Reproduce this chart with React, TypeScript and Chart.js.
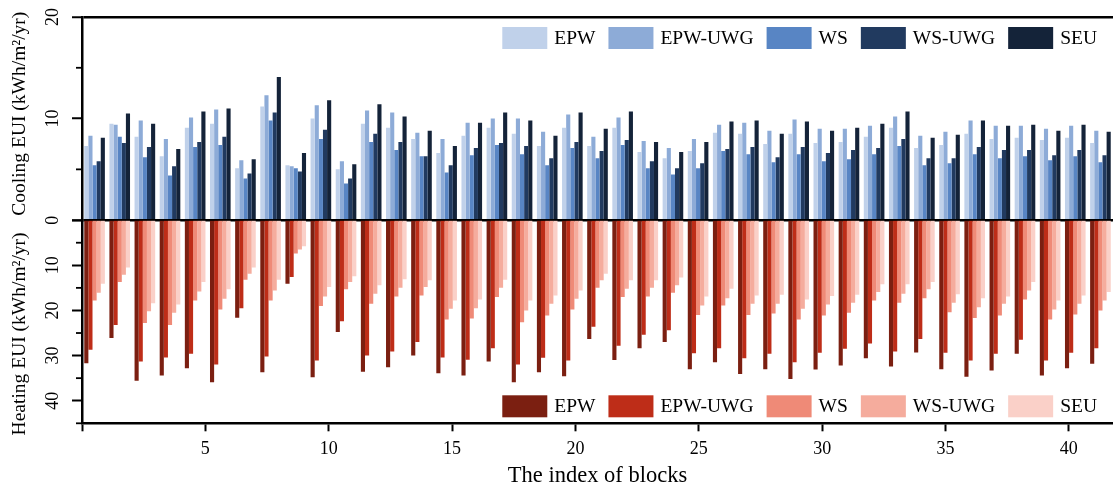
import React, { useEffect, useRef } from 'react';
import { Chart, registerables } from 'chart.js';

Chart.register(...registerables);

const BLOCKS = ['1','2','3','4','5','6','7','8','9','10','11','12','13','14','15','16','17','18','19','20','21','22','23','24','25','26','27','28','29','30','31','32','33','34','35','36','37','38','39','40','41'];
const SERIES = ['EPW', 'EPW-UWG', 'WS', 'WS-UWG', 'SEU'];

const COOL_EPW = [7.3,9.5,8.2,6.3,9.1,9.5,5.1,11.2,5.4,10.0,5.0,9.5,9.1,8.0,6.6,8.3,9.1,8.5,7.3,9.1,7.3,9.1,6.7,6.1,6.8,8.6,8.5,7.5,8.5,7.6,7.7,8.2,9.1,7.1,7.4,8.5,8.0,8.1,7.9,8.1,7.6];
const COOL_EPW_UWG = [8.3,9.4,9.8,8.0,10.1,10.9,5.9,12.3,5.3,11.3,5.8,10.8,10.6,8.6,8.0,9.6,10.0,10.0,8.7,10.4,8.2,10.1,7.8,7.1,8.0,9.4,9.6,8.8,9.9,9.0,9.0,9.3,10.2,8.3,8.7,9.8,9.3,9.3,9.0,9.3,8.8];
const COOL_WS = [5.4,8.2,6.2,4.4,7.2,7.4,4.1,9.8,5.1,8.0,3.6,7.7,6.9,6.3,4.7,6.4,7.4,6.5,5.4,7.1,6.1,7.4,5.1,4.5,5.1,6.8,6.5,5.7,6.5,5.8,6.0,6.5,7.3,5.4,5.6,6.5,6.1,6.3,5.9,6.3,5.7];
const COOL_WS_UWG = [5.8,7.6,7.2,5.3,7.7,8.2,4.6,10.6,4.8,8.9,4.1,8.5,7.7,6.3,5.4,7.1,7.6,7.3,6.1,7.7,6.8,7.9,5.8,5.1,5.6,7.0,7.2,6.2,7.2,6.6,6.9,7.1,8.0,6.1,6.1,7.2,6.9,6.9,6.4,6.9,6.4];
const COOL_SEU = [8.1,10.5,9.5,7.0,10.7,11.0,6.0,14.1,6.6,11.8,5.5,11.4,10.2,8.8,7.3,9.6,10.6,9.8,8.3,10.6,9.0,10.7,7.7,6.7,7.7,9.7,9.8,8.5,9.7,8.8,9.1,9.5,10.7,8.1,8.4,9.8,9.3,9.4,8.8,9.4,8.7];

const HEAT_EPW = [31.7,26.1,35.6,34.4,32.8,35.9,21.6,33.7,14.1,34.8,24.8,33.6,32.6,30.0,33.9,34.4,31.3,35.9,33.7,34.6,26.3,31.0,28.4,27.0,33.0,31.5,34.1,33.0,35.2,33.1,32.2,30.6,32.4,29.3,33.0,34.7,33.3,29.6,34.4,32.8,31.8];
const HEAT_EPW_UWG = [28.7,23.2,31.3,30.4,29.6,32.0,19.5,30.2,12.6,31.1,22.4,30.0,29.1,27.0,30.4,30.9,28.4,32.0,30.5,31.1,23.6,27.8,25.4,24.4,29.5,28.4,30.6,29.6,31.5,29.4,28.5,27.3,29.1,26.3,29.4,31.1,29.6,26.5,31.1,29.4,28.4];
const HEAT_WS = [17.8,13.7,22.8,23.2,17.8,19.8,13.2,17.8,7.4,19.0,15.3,18.5,16.9,16.7,22.0,21.8,17.0,22.6,21.1,19.8,15.0,17.0,16.9,16.1,21.0,18.9,21.0,20.7,22.0,21.1,20.5,17.8,18.3,17.3,20.4,21.7,21.1,17.6,22.0,20.9,20.0];
const HEAT_WS_UWG = [16.1,12.1,20.2,20.5,15.8,17.4,11.9,15.6,6.5,16.9,13.7,16.3,15.0,14.8,19.6,19.5,15.0,20.0,18.5,17.4,13.3,15.2,15.0,14.4,18.9,17.3,18.5,18.5,19.6,18.7,18.3,15.9,16.3,15.3,18.3,19.3,18.5,15.6,19.8,18.5,17.8];
const HEAT_SEU = [14.1,10.5,18.4,18.7,13.7,15.3,10.5,13.2,5.8,14.8,12.4,14.4,13.1,13.3,17.8,17.6,13.2,17.8,16.7,15.6,11.9,13.3,13.3,12.7,16.9,15.2,16.7,16.5,17.6,16.8,16.5,14.2,14.2,13.7,16.4,17.3,16.9,13.7,17.8,16.7,15.9];

const COOL_COLORS = ['#c0d1ea', '#8dabd7', '#5885c4', '#213a5f', '#142339'];
const HEAT_COLORS = ['#7b1f11', '#be2d18', '#ef8a77', '#f5ac9d', '#fad0c8'];

const X_TICKS = [0, 5, 10, 15, 20, 25, 30, 35, 40];
const COOL_TICKS = [0, 5, 10, 15, 20];
const COOL_LABELED = [0, 10, 20];
const HEAT_TICKS = [0, 5, 10, 15, 20, 25, 30, 35, 40, 45];
const HEAT_LABELED = [10, 20, 30, 40];

const FONT = "'Liberation Serif', 'Times New Roman', serif";

const panelPlugin = {
  id: 'panelExtras',
  afterDraw(chart: any) {
    const { ctx, chartArea } = chart;
    const ds = chart.data.datasets;
    ctx.save();
    // minor ticks on the y axes
    ctx.strokeStyle = '#000';
    ctx.lineWidth = 1.8;
    const minor = (scale: any) => {
      scale.ticks.forEach((t: any) => {
        if (t.value % 10 !== 0) {
          const y = scale.getPixelForValue(t.value);
          ctx.beginPath();
          ctx.moveTo(chartArea.left - 6, y);
          ctx.lineTo(chartArea.left, y);
          ctx.stroke();
        }
      });
    };
    minor(chart.scales.yc);
    minor(chart.scales.yh);

    // rotated y tick labels
    ctx.fillStyle = '#000';
    ctx.font = `18px ${FONT}`;
    ctx.textAlign = 'center';
    ctx.textBaseline = 'middle';
    const rotLabels = (scale: any, values: number[]) => {
      values.forEach((v) => {
        const y = scale.getPixelForValue(v);
        ctx.save();
        ctx.translate(chartArea.left - 30, y);
        ctx.rotate(-Math.PI / 2);
        ctx.fillText(String(v), 0, 1);
        ctx.restore();
      });
    };
    rotLabels(chart.scales.yc, COOL_LABELED);
    rotLabels(chart.scales.yh, HEAT_LABELED);

    // legends
    ctx.textAlign = 'left';
    ctx.font = `19.5px ${FONT}`;
    const drawRow = (items: any[], cy: number) => {
      const boxW = 45, boxH = 22, gapBox = 7, gapItem = 13;
      const widths = items.map((d) => ctx.measureText(d.label).width);
      const total = widths.reduce((a, w) => a + boxW + gapBox + w, 0) + gapItem * (items.length - 1);
      let x = chartArea.right - 16 - total;
      items.forEach((d, i) => {
        ctx.fillStyle = d.backgroundColor;
        ctx.fillRect(x, cy - boxH / 2, boxW, boxH);
        ctx.fillStyle = '#000';
        ctx.fillText(d.label, x + boxW + gapBox, cy + 1);
        x += boxW + gapBox + widths[i] + gapItem;
      });
    };
    drawRow(ds.filter((d: any) => d.yAxisID === 'yc'), chartArea.top + 21);
    drawRow(ds.filter((d: any) => d.yAxisID === 'yh'), chartArea.bottom - 17);
    ctx.restore();
  },
};

export default function App() {
  const ref = useRef<HTMLCanvasElement>(null);

  useEffect(() => {
    document.body.style.margin = '0';
    if (!ref.current) return;
    const cool = [COOL_EPW, COOL_EPW_UWG, COOL_WS, COOL_WS_UWG, COOL_SEU];
    const heat = [HEAT_EPW, HEAT_EPW_UWG, HEAT_WS, HEAT_WS_UWG, HEAT_SEU];
    const datasets: any[] = [];
    SERIES.forEach((name, i) => {
      datasets.push({
        label: name,
        data: cool[i],
        backgroundColor: COOL_COLORS[i],
        xAxisID: 'x',
        yAxisID: 'yc',
        stack: 's' + i,
        borderWidth: 0,
      });
    });
    SERIES.forEach((name, i) => {
      datasets.push({
        label: name,
        data: heat[i],
        backgroundColor: HEAT_COLORS[i],
        xAxisID: 'x',
        yAxisID: 'yh',
        stack: 's' + i,
        borderWidth: 0,
      });
    });

    const yTickColor = (c: any) => (c.tick && c.tick.value % 10 === 0 ? '#000' : 'rgba(0,0,0,0)');

    const chart = new Chart(ref.current, {
      type: 'bar',
      data: { labels: BLOCKS, datasets },
      plugins: [panelPlugin],
      options: {
        animation: false,
        responsive: false,
        maintainAspectRatio: false,
        layout: { padding: { top: 17, right: 0, bottom: 0, left: 0 } },
        datasets: { bar: { categoryPercentage: 0.82, barPercentage: 1 } },
        plugins: { legend: { display: false }, tooltip: { enabled: false } },
        font: { family: FONT, size: 18 },
        color: '#000',
        scales: {
          x: {
            type: 'category',
            display: false,
            offset: true,
          },
          x2: {
            type: 'linear',
            position: 'bottom',
            min: 0,
            max: 41.79,
            offset: false,
            z: 1,
            afterBuildTicks: (s: any) => {
              s.ticks = X_TICKS.map((v) => ({ value: v }));
            },
            afterFit: (s: any) => {
              s.height = 66.7;
            },
            grid: { offset: false, drawOnChartArea: false, drawTicks: true, tickLength: 8, tickWidth: 2, tickColor: '#000' },
            border: { display: true, color: '#000', width: 2.5 },
            ticks: {
              padding: 7,
              color: '#000',
              font: { family: FONT, size: 18 },
              maxRotation: 0,
              autoSkip: false,
              callback: (v: any) => (v === 0 ? '' : String(v)),
            },
            title: {
              display: true,
              text: 'The index of blocks',
              color: '#000',
              font: { family: FONT, size: 22.5 },
              padding: { top: 0, bottom: 0 },
            },
          },
          yc: {
            type: 'linear',
            position: 'left',
            stack: 'panels',
            stackWeight: 1,
            weight: 1,
            stacked: false,
            min: 0,
            max: 20,
            z: 1,
            afterBuildTicks: (s: any) => {
              s.ticks = COOL_TICKS.map((v) => ({ value: v }));
            },
            afterFit: (s: any) => {
              s.width = 82;
            },
            grid: {
              drawOnChartArea: true,
              drawTicks: true,
              tickLength: 10,
              tickWidth: 2,
              lineWidth: 2.5,
              color: (c: any) => (c.tick && (c.tick.value === 0 || c.tick.value === 20) ? '#000' : 'rgba(0,0,0,0)'),
              tickColor: yTickColor,
            },
            border: { display: true, color: '#000', width: 2.5 },
            ticks: { display: false },
            title: {
              display: true,
              text: '  Cooling EUI (kWh/m²/yr)',
              color: '#000',
              font: { family: FONT, size: 19.5 },
              padding: { top: 8, bottom: 0 },
            },
          },
          yh: {
            type: 'linear',
            position: 'left',
            stack: 'panels',
            stackWeight: 1,
            weight: 0,
            stacked: false,
            reverse: true,
            min: 0,
            max: 45,
            z: 1,
            afterBuildTicks: (s: any) => {
              s.ticks = HEAT_TICKS.map((v) => ({ value: v }));
            },
            afterFit: (s: any) => {
              s.width = 82;
            },
            grid: {
              drawOnChartArea: false,
              drawTicks: true,
              tickLength: 10,
              tickWidth: 2,
              tickColor: yTickColor,
            },
            border: { display: true, color: '#000', width: 2.5 },
            ticks: { display: false },
            title: {
              display: true,
              text: 'Heating EUI (kWh/m²/yr)     ',
              color: '#000',
              font: { family: FONT, size: 19.5 },
              padding: { top: 8, bottom: 0 },
            },
          },
        },
      } as any,
    });
    return () => chart.destroy();
  }, []);

  return (
    <div style={{ width: 1113, height: 490, position: 'relative', background: '#fff' }}>
      <canvas ref={ref} width={1113} height={490} style={{ display: 'block' }} />
    </div>
  );
}
